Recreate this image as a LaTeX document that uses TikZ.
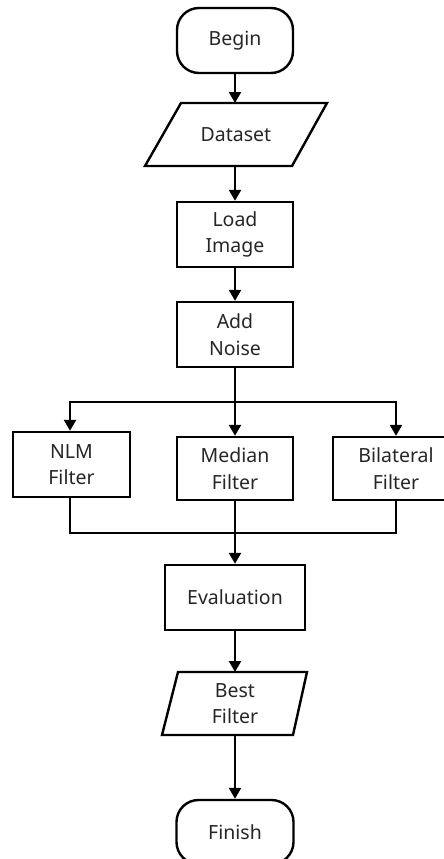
\documentclass[tikz,border=0pt]{standalone}
\usepackage{fontspec}
\setmainfont{Noto Sans}
\usetikzlibrary{arrows.meta,calc}
\tikzset{
  lw/.style={line width=2.4pt},
  lbl/.style={font=\fontsize{19.5}{26.5}\selectfont, text=black!85, align=center, inner sep=0pt},
  procbox/.style={lbl, draw, lw, rectangle, minimum width=116pt, minimum height=65pt},
  termbox/.style={lbl, draw, lw, rectangle, rounded corners=22pt, minimum width=116pt, minimum height=65pt},
  iobox/.style={lbl, minimum width=100pt, minimum height=63pt},
  arr/.style={lw, -{Triangle[length=11pt,width=12pt]}},
  wire/.style={lw}
}
\begin{document}
\begin{tikzpicture}[x=1pt,y=-1pt]
\useasboundingbox (0,0) rectangle (444,859);
\begin{scope}
\clip (0,0) rectangle (444,859);
\node[termbox] (begin) at (235,40.5) {Begin};
\node[iobox] (data) at (236,134.5) {Dataset};
\draw[lw, line join=miter] ($(data.center)+(-55,-31.5)$) -- ($(data.center)+(91,-31.5)$) -- ($(data.center)+(56,31.5)$) -- ($(data.center)+(-91,31.5)$) -- cycle;
\node[procbox] (load) at (235,234.5) {Load\\Image};
\node[procbox] (noise) at (235,334.5) {Add\\Noise};
\node[procbox, minimum width=117pt] (nlm) at (71.5,464.5) {NLM\\Filter};
\node[procbox, minimum height=63pt] (median) at (235,468.5) {Median\\Filter};
\node[procbox, minimum width=126pt, minimum height=63pt] (bil) at (396,468.5) {Bilateral\\Filter};
\node[procbox, minimum width=140pt] (eval) at (235,597.5) {Evaluation};
\node[iobox, minimum height=63pt] (best) at (235,703.5) {Best\\Filter};
\draw[lw] ($(best.center)+(-57,-31.5)$) -- ($(best.center)+(72,-31.5)$) -- ($(best.center)+(58,31.5)$) -- ($(best.center)+(-73,31.5)$) -- cycle;
\node[termbox, minimum width=117pt, minimum height=64pt] (finish) at (235,832) {Finish};

\coordinate (split) at (235,402);
\coordinate (merge) at (235,533);

\draw[arr] (begin.south) -- ($(data.center)+(-1,-31.5)$);
\draw[arr] ($(data.center)+(-1,31.5)$) -- (load.north);
\draw[arr] (load) -- (noise);
\draw[wire] (noise.south) -- (split);
\draw[arr] ([xshift=1.2pt]split) -| ($(nlm.north)+(-1.5,0)$);
\draw[arr] (split) -- (median.north);
\draw[arr] ([xshift=-1.2pt]split) -| (bil.north);
\draw[wire] ($(nlm.south)+(-1.5,0)$) |- (merge);
\draw[wire] (bil.south) |- (merge);
\draw[arr] (median.south) -- (eval.north);
\draw[arr] (eval) -- ($(best.center)+(0,-31.5)$);
\draw[arr] ($(best.center)+(0,31.5)$) -- (finish.north);
\end{scope}
\end{tikzpicture}
\end{document}
